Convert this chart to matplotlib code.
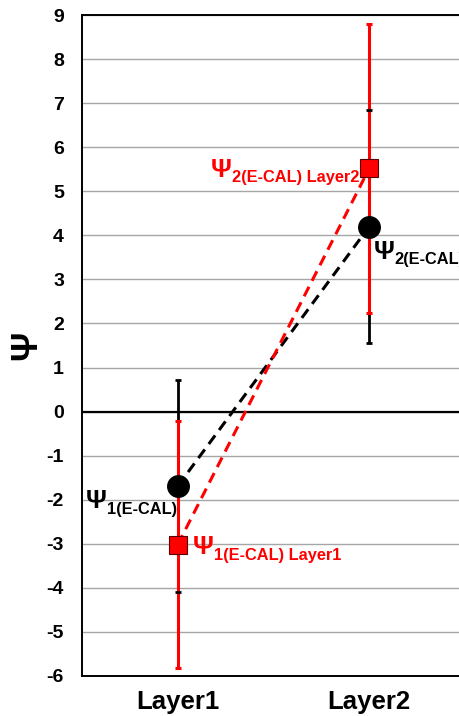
'''Psi per layer: E-CAL estimate with error bars'''
import numpy as np
import matplotlib.pyplot as plt

# Data
layers     = ['Layer1', 'Layer2']
psi_black  = [-1.69, 4.20]
err_black  = [2.41, 2.64]
psi_red    = [-3.02, 5.52]
err_red    = [2.80, 3.28]

plt.rcParams['font.family'] = ['Liberation Sans', 'DejaVu Sans']
plt.rcParams['font.weight'] = 'bold'
plt.rcParams['axes.unicode_minus'] = False

RED = '#ff0000'

fig = plt.figure(figsize=(4.59, 7.16), dpi=100)
ax = fig.add_axes([82/459, 40/716, 383/459, 661/716])

x = np.arange(len(layers))

# error bars: black lines under red lines, black caps on top
eb_k = ax.errorbar(x, psi_black, yerr=err_black, fmt='none', ecolor='black',
                   elinewidth=2.0, capsize=2.2, capthick=2.0, zorder=3)
eb_r = ax.errorbar(x, psi_red, yerr=err_red, fmt='none', ecolor=RED,
                   elinewidth=2.2, capsize=2.2, capthick=2.2, zorder=4)
for cap in eb_k[1]:
    cap.set_zorder(5)

# dashed connectors + markers
ax.plot(x, psi_black, color='black', linestyle=(0, (3.5, 2.2)), linewidth=2.2, zorder=6)
ax.plot(x, psi_red, color=RED, linestyle=(0, (3.5, 2.2)), linewidth=2.2, zorder=6)
ax.plot(x, psi_black, 'o', color='black', markersize=15.5, zorder=7)
ax.plot(x, psi_red, 's', color=RED, markeredgecolor='#5a0000', markeredgewidth=0.8,
        markersize=12.5, zorder=8)

def psi_label(xv, yv, sub, color, dx=0, dy=0):
    t = ax.annotate('\u03a8', xy=(xv, yv), xytext=(dx, dy), textcoords='offset points',
                    fontsize=18.5, fontweight='bold', color=color, ha='left', va='center',
                    zorder=9)
    ax.annotate(sub, xy=(1, 0.18), xycoords=t, xytext=(0, 0), textcoords='offset points',
                fontsize=11.8, fontweight='bold', color=color, ha='left', va='center',
                zorder=9, annotation_clip=False)

psi_label(-0.48, psi_black[0], '1(E-CAL)', 'black', dy=-11)
psi_label(x[0], psi_red[0], '1(E-CAL) Layer1', RED, dx=11, dy=-2)
psi_label(x[1], psi_red[1], '2(E-CAL) Layer2', RED, dx=-114, dy=-1)
psi_label(x[1], psi_black[1], '2(E-CAL)', 'black', dx=3, dy=-18)

ax.set_xlim(-0.5, 1.5)
ax.set_ylim(-6, 9)
ax.set_yticks(np.arange(-6, 10, 1))
ax.set_xticks(x)
ax.set_xticklabels(layers, fontsize=18.5, fontweight='bold')
ax.tick_params(axis='y', length=0, pad=13, labelsize=14)
ax.tick_params(axis='x', length=0, pad=10)

ax.grid(axis='y', color='#a6a6a6', linewidth=1.0, zorder=0)
ax.set_axisbelow(True)
ax.axhline(0, color='black', linewidth=1.6, zorder=2)
for s in ['left', 'top', 'bottom']:
    ax.spines[s].set_linewidth(1.4)
ax.spines['right'].set_visible(False)

ax.set_ylabel('\u03a8', fontsize=26, fontweight='bold')
ax.yaxis.set_label_coords(-0.098, 0.5)

plt.savefig('out.png', dpi=100)
